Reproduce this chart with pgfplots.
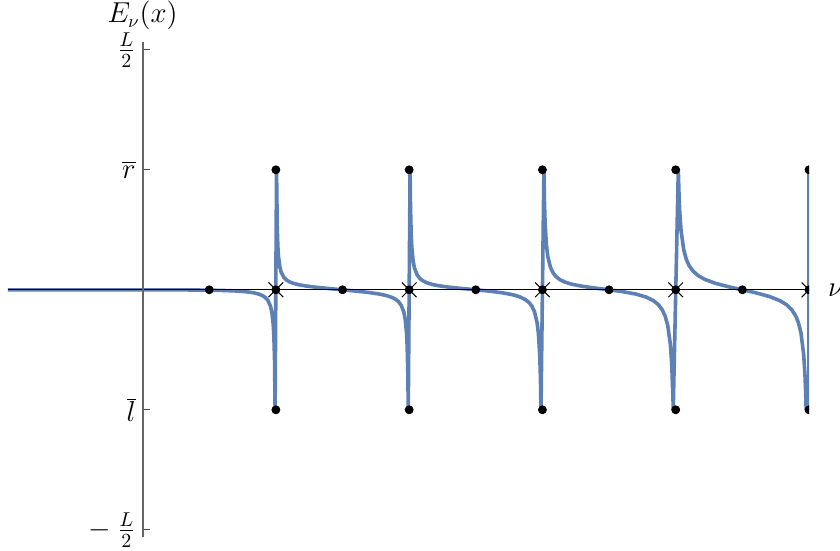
\documentclass[border=0pt]{standalone}
\usepackage{pgfplots}
\pgfplotsset{compat=1.18}
\definecolor{mmablue}{rgb}{0.368,0.507,0.71}
\newcommand{\bigfrac}{\fontsize{14.5}{17}\selectfont}
\begin{document}
\begin{tikzpicture}
\begin{axis}[
  name=ax,
  scale only axis,
  width=400.5pt, height=247.5pt,
  axis lines=middle,
  axis line style={-},
  x axis line style={black, line width=0.5pt},
  y axis line style={black!60, line width=0.9pt},
  axis on top,
  xmin=-1.01, xmax=5, ymin=-2.06, ymax=2.065,
  enlargelimits=false,
  clip marker paths=true,
  xtick=\empty,
  ytick={-2,-1,1,2},
  yticklabels={{$-$\hspace{3pt}{\bigfrac$\frac{L}{2}$}}, $\overline{l}$, $\overline{r}$, {\bigfrac$\frac{L}{2}$}},
  tick align=inside,
  major tick length=3.5pt,
  ytick style={black!70, line width=0.5pt},
  ticklabel style={font=\fontsize{13.5}{16}\selectfont},
  xlabel={$\nu$},
  ylabel={$E_\nu(x)$},
  label style={font=\fontsize{13.5}{16}\selectfont},
  xlabel style={anchor=west, xshift=6pt},
  ylabel style={anchor=south, yshift=2.5pt},
]
% curve, read off the picture interval by interval
\addplot[mmablue, line width=1.8pt, line join=round, mark=none] coordinates {
(-1.05,0) (0,0) (0.2,-0.0003) (0.4,-0.0016) (0.5,-0.003) (0.6,-0.0054) (0.7,-0.0098)
(0.78,-0.0166) (0.83,-0.0243) (0.87,-0.0349) (0.9,-0.0486) (0.92,-0.0635) (0.94,-0.0884)
(0.96,-0.138) (0.97,-0.188) (0.98,-0.288) (0.985,-0.388) (0.99,-0.588) (0.9941,-1)
(1.0049,1) (1.01,0.523) (1.015,0.356) (1.02,0.273) (1.03,0.189) (1.04,0.146) (1.06,0.1035)
(1.08,0.0814) (1.1,0.0676) (1.13,0.0543) (1.17,0.0426) (1.22,0.0327) (1.3,0.0214) (1.4,0.0102)
(1.5,0) (1.6,-0.0105) (1.7,-0.0228) (1.78,-0.036) (1.83,-0.0482) (1.87,-0.063) (1.9,-0.0804)
(1.92,-0.0987) (1.94,-0.128) (1.96,-0.186) (1.97,-0.243) (1.98,-0.357) (1.985,-0.471)
(1.99,-0.698) (1.9933,-1)
(2.0069,1) (2.01,0.693) (2.015,0.466) (2.02,0.3526) (2.03,0.2388) (2.04,0.1816) (2.06,0.1241)
(2.08,0.0948) (2.1,0.077) (2.13,0.0599) (2.17,0.0457) (2.22,0.0342) (2.3,0.0218) (2.4,0.0103)
(2.5,0) (2.6,-0.011) (2.7,-0.025) (2.78,-0.0419) (2.83,-0.0587) (2.87,-0.0802) (2.9,-0.1068)
(2.92,-0.1351) (2.94,-0.1818) (2.96,-0.2742) (2.97,-0.3663) (2.98,-0.5501) (2.985,-0.7335)
(2.989,-1)
(3.0111,1) (3.015,0.7387) (3.02,0.5552) (3.03,0.3716) (3.04,0.2795) (3.06,0.187) (3.08,0.1404)
(3.1,0.1121) (3.13,0.0855) (3.17,0.0637) (3.22,0.0466) (3.3,0.0292) (3.4,0.0136) (3.5,0)
(3.6,-0.015) (3.7,-0.0352) (3.78,-0.0613) (3.83,-0.0884) (3.87,-0.1243) (3.9,-0.169)
(3.92,-0.2171) (3.94,-0.2969) (3.96,-0.4558) (3.97,-0.6145) (3.98,-0.9314) (3.9813,-1)
(4.0194,1) (4.025,0.7805) (4.03,0.6533) (4.04,0.4939) (4.06,0.3336) (4.08,0.2523) (4.1,0.2027)
(4.13,0.1557) (4.17,0.1169) (4.22,0.0859) (4.3,0.0533) (4.4,0.0245) (4.5,0) (4.6,-0.0248)
(4.7,-0.0549) (4.78,-0.0895) (4.83,-0.123) (4.87,-0.1653) (4.9,-0.2169) (4.92,-0.2714)
(4.94,-0.361) (4.96,-0.538) (4.97,-0.714) (4.975,-0.8545) (4.9787,-1) (5,-1) (5,1)
};
% dots
\addplot[only marks, mark=*, mark size=2pt, black] coordinates {
(0.5,0) (1.5,0) (2.5,0) (3.5,0) (4.5,0)
(1,0) (2,0) (3,0) (4,0) (5,0)
(1,1) (2,1) (3,1) (4,1) (5,1)
(1,-1) (2,-1) (3,-1) (4,-1) (5,-1)
};
% crosses at the integers
\addplot[only marks, mark=x, mark size=5.2pt, black, mark options={line width=0.5pt}] coordinates {
(1,0) (2,0) (3,0) (4,0) (5,0)
};
\end{axis}
\pgfresetboundingbox
\path ([shift={(-4pt,-6.5pt)}]ax.south west) rectangle ([shift={(15.5pt,21pt)}]ax.north east);
\end{tikzpicture}
\end{document}
